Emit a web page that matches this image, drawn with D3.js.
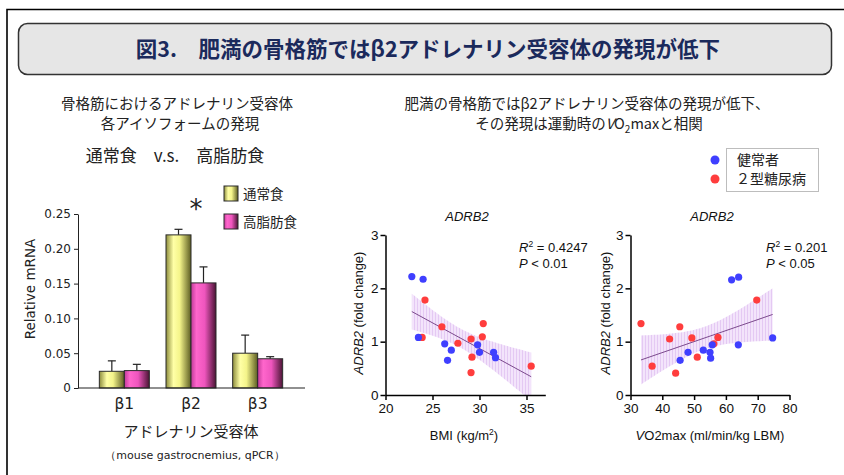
<!DOCTYPE html>
<html>
<head>
<meta charset="utf-8">
<script src="https://cdn.jsdelivr.net/npm/d3@7"></script>
<style>
  body { margin: 0; background: #fff; }
  svg { display: block; }
</style>
</head>
<body>
<svg id="fig" width="844" height="475"></svg>
<script>
// ---- Bar chart: adrenergic receptor isoforms, normal vs high-fat diet ----
const categories = ["β1", "β2", "β3"];
const normalDiet = [0.024, 0.220, 0.050];
const normalDietErr = [0.015, 0.008, 0.026];
const highFatDiet = [0.025, 0.151, 0.042];
const highFatDietErr = [0.009, 0.023, 0.003];
const barTicks = [0, 0.05, 0.10, 0.15, 0.20, 0.25];
const barTickLabels = ["0", "0.05", "0.10", "0.15", "0.20", "0.25"];
const dietLabels = ["通常食", "高脂肪食"];

// ---- Scatter: ADRB2 vs BMI ----
const bmiHealthy = [22.8, 24.0, 23.5, 26.3, 27.0, 26.6, 29.8, 30.0, 31.5, 31.7];
const adrb2BmiHealthy = [2.22, 2.17, 1.08, 0.96, 0.84, 0.65, 0.94, 0.80, 0.80, 0.70];
const bmiT2D = [24.2, 23.9, 26.0, 27.7, 29.1, 29.2, 29.1, 30.4, 30.3, 35.5];
const adrb2BmiT2D = [1.78, 1.08, 1.28, 0.97, 1.05, 0.71, 0.42, 1.34, 1.09, 0.54];
const bmiTicks = [20, 25, 30, 35];

// ---- Scatter: ADRB2 vs VO2max ----
const vo2Healthy = [45.6, 48.1, 52.9, 55.0, 55.2, 55.7, 61.8, 64.0, 63.9, 74.7];
const adrb2Vo2Healthy = [0.65, 0.80, 0.84, 0.80, 0.69, 0.94, 2.16, 2.21, 0.94, 1.07];
const vo2T2D = [33.3, 36.8, 42.3, 45.5, 44.2, 49.3, 51.0, 56.2, 57.5, 69.7];
const adrb2Vo2T2D = [1.34, 0.54, 1.05, 1.28, 0.41, 1.07, 0.71, 0.96, 1.08, 1.78];
const vo2Ticks = [30, 40, 50, 60, 70, 80];
const foldTicks = [0, 1, 2, 3];

const groupLabels = ["健常者", "２型糖尿病"];
const statsBmi = ["0.4247", "0.01"];
const statsVo2 = ["0.201", "0.05"];

const heading = "図3.　肥満の骨格筋ではβ2アドレナリン受容体の発現が低下";

const JP = "'Noto Sans CJK JP', 'Noto Sans', sans-serif";
const VER = "'DejaVu Sans', Verdana, sans-serif";
const ARIAL = "'Liberation Sans', Arial, sans-serif";
const BLUE = "#3f3fff";
const RED = "#ff3d3d";

const svg = d3.select("#fig");
const defs = svg.append("defs");

// page frame
svg.append("path").attr("d", "M7,475V9.5H844")
  .attr("fill", "none").attr("stroke", "#000").attr("stroke-width", 1.6);

// heading box
svg.append("rect").attr("x", 18.5).attr("y", 23.5).attr("width", 813).attr("height", 51)
  .attr("rx", 9).attr("fill", "#e6e6e6").attr("stroke", "#333").attr("stroke-width", 1.5);
svg.append("text").attr("x", 428).attr("y", 57).attr("text-anchor", "middle")
  .attr("font-family", JP).attr("font-weight", "bold").attr("font-size", 21.5)
  .attr("fill", "#1b2a5c").text(heading);

// ---------------- left panel ----------------
const left = svg.append("g").attr("fill", "#222");
left.append("text").attr("x", 177).attr("y", 109).attr("text-anchor", "middle")
  .attr("font-family", JP).attr("font-size", 14.5).text("骨格筋におけるアドレナリン受容体");
left.append("text").attr("x", 180).attr("y", 128.5).attr("text-anchor", "middle")
  .attr("font-family", JP).attr("font-size", 14.5).text("各アイソフォームの発現");
left.append("text").attr("x", 175).attr("y", 161.5).attr("text-anchor", "middle")
  .attr("font-family", JP).attr("font-size", 17).text("通常食　v.s.　高脂肪食");

// cylinder-like gradients for the bars
function hGradient(id, stops) {
  const g = defs.append("linearGradient").attr("id", id)
    .attr("x1", "0%").attr("x2", "100%").attr("y1", "0%").attr("y2", "0%");
  stops.forEach(([o, c]) => g.append("stop").attr("offset", o).attr("stop-color", c));
}
hGradient("gNormal", [["0%", "#8c8c3c"], ["30%", "#ffffa6"], ["55%", "#f4f48a"], ["100%", "#5c5c22"]]);
hGradient("gHighFat", [["0%", "#c03a98"], ["22%", "#ff66cc"], ["55%", "#ee55bd"], ["100%", "#4a1434"]]);
const fills = ["url(#gNormal)", "url(#gHighFat)"];

const yBar = d3.scaleLinear().domain([0, 0.25]).range([388, 214]);
const xBar = d3.scaleBand().domain(categories).range([91, 291])
  .paddingInner(0.25).paddingOuter(0.125);
const xSub = d3.scaleBand().domain([0, 1]).range([0, xBar.bandwidth()]);

const yAxisBar = d3.axisLeft(yBar).tickValues(barTicks)
  .tickFormat((d, i) => barTickLabels[i]).tickSize(4).tickSizeOuter(0).tickPadding(3);
const gyb = left.append("g").attr("transform", "translate(78,0)").call(yAxisBar);
gyb.selectAll("text").attr("font-family", VER).attr("font-size", 12).attr("fill", "#222");
gyb.selectAll("line,path").attr("stroke", "#222");

const series = [
  { vals: normalDiet, errs: normalDietErr },
  { vals: highFatDiet, errs: highFatDietErr }
];
const rows = [];
series.forEach((s, si) => s.vals.forEach((v, ci) =>
  rows.push({ cat: categories[ci], si, v, e: s.errs[ci] })));

const capW = 4;
const barG = left.append("g");
barG.selectAll("g.bar").data(rows).join("g").attr("class", "bar").each(function (d) {
  const g = d3.select(this);
  const x0 = xBar(d.cat) + xSub(d.si);
  const w = xSub.bandwidth();
  const cx = x0 + w / 2;
  g.append("line").attr("x1", cx).attr("x2", cx)
    .attr("y1", yBar(d.v)).attr("y2", yBar(d.v + d.e)).attr("stroke", "#222").attr("stroke-width", 1.2);
  g.append("line").attr("x1", cx - capW).attr("x2", cx + capW)
    .attr("y1", yBar(d.v + d.e)).attr("y2", yBar(d.v + d.e)).attr("stroke", "#222").attr("stroke-width", 1.2);
  g.append("rect").attr("x", x0).attr("y", yBar(d.v)).attr("width", w)
    .attr("height", yBar(0) - yBar(d.v)).attr("fill", fills[d.si])
    .attr("stroke", "#2a2a2a").attr("stroke-width", 1);
});

// baseline and category labels
left.append("line").attr("x1", 78).attr("x2", 305).attr("y1", 388).attr("y2", 388)
  .attr("stroke", "#222").attr("stroke-width", 1.2);
const xAxisBar = d3.axisBottom(xBar).tickSize(0).tickPadding(10);
const gxb = left.append("g").attr("transform", "translate(0,388)").call(xAxisBar);
gxb.select(".domain").remove();
gxb.selectAll("text").attr("font-family", VER).attr("font-size", 15.5).attr("fill", "#222");

left.append("text").attr("transform", "translate(35,289) rotate(-90)")
  .attr("text-anchor", "middle").attr("font-family", VER).attr("font-size", 13.5)
  .text("Relative mRNA");
left.append("text").attr("x", 191).attr("y", 436.5).attr("text-anchor", "middle")
  .attr("font-family", JP).attr("font-size", 15).text("アドレナリン受容体");
left.append("text").attr("x", 195).attr("y", 459).attr("text-anchor", "middle")
  .attr("font-family", VER).attr("font-size", 11).text("（mouse gastrocnemius, qPCR）");

// significance mark over β2
left.append("text").attr("x", xBar("β2") + xBar.bandwidth() / 2 + 5).attr("y", 218)
  .attr("text-anchor", "middle").attr("font-family", VER).attr("font-size", 26).text("*");

// diet legend
dietLabels.forEach((lab, i) => {
  const yy = 186 + i * 28;
  left.append("rect").attr("x", 224).attr("y", yy).attr("width", 14).attr("height", 15)
    .attr("fill", fills[i]).attr("stroke", "#2a2a2a").attr("stroke-width", 1);
  left.append("text").attr("x", 243).attr("y", yy + 12.5).attr("font-family", JP)
    .attr("font-size", 13.5).text(lab);
});

// ---------------- right panel ----------------
const right = svg.append("g").attr("fill", "#222");
right.append("text").attr("x", 587).attr("y", 108.5).attr("text-anchor", "middle")
  .attr("font-family", JP).attr("font-size", 14.5).text("肥満の骨格筋ではβ2アドレナリン受容体の発現が低下、");
const t2 = right.append("text").attr("x", 589).attr("y", 128.5).attr("text-anchor", "middle")
  .attr("font-family", JP).attr("font-size", 14.5);
t2.append("tspan").text("その発現は運動時の");
t2.append("tspan").attr("font-style", "italic").text("V");
t2.append("tspan").text("O");
t2.append("tspan").attr("font-size", 10).attr("dy", 4).text("2");
t2.append("tspan").attr("dy", -4).text("maxと相関");

// group legend
right.append("rect").attr("x", 726.5).attr("y", 148.5).attr("width", 92).attr("height", 43)
  .attr("fill", "#fff").attr("stroke", "#bdbdbd").attr("stroke-width", 1);
[BLUE, RED].forEach((c, i) => {
  right.append("circle").attr("cx", 715).attr("cy", 160 + i * 19).attr("r", 4.5).attr("fill", c);
  right.append("text").attr("x", i ? 736 : 737).attr("y", 165 + i * 19).attr("font-family", JP)
    .attr("font-size", 14).text(groupLabels[i]);
});

// hatched confidence band
const pat = defs.append("pattern").attr("id", "bandHatch").attr("patternUnits", "userSpaceOnUse")
  .attr("width", 3).attr("height", 6);
pat.append("rect").attr("width", 3).attr("height", 6).attr("fill", "#f3e4fb");
pat.append("rect").attr("width", 1).attr("height", 6).attr("fill", "#e4c9f3");

// least-squares fit with 95% confidence band (df = n - 2 = 18)
const T_CRIT = 2.101;
function fit(xs, ys) {
  const n = xs.length;
  const mx = d3.mean(xs), my = d3.mean(ys);
  let sxx = 0, sxy = 0;
  xs.forEach((x, i) => { sxx += (x - mx) ** 2; sxy += (x - mx) * (ys[i] - my); });
  const b = sxy / sxx, a = my - b * mx;
  let sse = 0;
  xs.forEach((x, i) => { sse += (ys[i] - a - b * x) ** 2; });
  const s = Math.sqrt(sse / (n - 2));
  const half = x => T_CRIT * s * Math.sqrt(1 / n + (x - mx) ** 2 / sxx);
  return { a, b, half };
}

function scatterPanel(cfg) {
  const g = svg.append("g");
  const x = d3.scaleLinear().domain(cfg.xDomain).range(cfg.xRange);
  const y = d3.scaleLinear().domain([0, 3]).range([395, 235]);
  const clipId = "clip" + cfg.id;
  defs.append("clipPath").attr("id", clipId).append("rect")
    .attr("x", cfg.xRange[0]).attr("y", 230).attr("width", cfg.xRange[1] - cfg.xRange[0]).attr("height", 165);

  const allX = cfg.xs[0].concat(cfg.xs[1]);
  const allY = cfg.ys[0].concat(cfg.ys[1]);
  const f = fit(allX, allY);
  const [lo, hi] = d3.extent(allX);
  const grid = d3.range(0, 41).map(k => lo + (hi - lo) * k / 40);
  const area = d3.area().x(d => x(d))
    .y0(d => y(f.a + f.b * d - f.half(d))).y1(d => y(f.a + f.b * d + f.half(d)));
  g.append("path").datum(grid).attr("d", area).attr("fill", "url(#bandHatch)")
    .attr("clip-path", `url(#${clipId})`);
  g.append("line").attr("x1", x(lo)).attr("x2", x(hi))
    .attr("y1", y(f.a + f.b * lo)).attr("y2", y(f.a + f.b * hi))
    .attr("stroke", "#7b4a8c").attr("stroke-width", 1);

  // points: diabetic first, healthy on top
  [1, 0].forEach(k => {
    g.append("g").selectAll("circle").data(cfg.xs[k].map((v, i) => [v, cfg.ys[k][i]]))
      .join("circle").attr("cx", d => x(d[0])).attr("cy", d => y(d[1])).attr("r", 3.6)
      .attr("fill", k ? RED : BLUE);
  });

  const ya = g.append("g").attr("transform", `translate(${cfg.xRange[0]},0)`)
    .call(d3.axisLeft(y).tickValues(foldTicks).tickFormat(d3.format("d")).tickSize(5).tickPadding(2).tickSizeOuter(0));
  const xa = g.append("g").attr("transform", "translate(0,395)")
    .call(d3.axisBottom(x).tickValues(cfg.xTicks).tickFormat(d3.format("d")).tickSize(5).tickPadding(3).tickSizeOuter(0));
  [ya, xa].forEach(a => {
    a.selectAll("path,line").attr("stroke", "#000").attr("stroke-width", 1.5);
    a.selectAll("text").attr("font-family", ARIAL).attr("font-size", 13.5).attr("fill", "#111");
  });

  g.append("text").attr("x", cfg.titleX).attr("y", 220.5).attr("text-anchor", "middle")
    .attr("font-family", ARIAL).attr("font-style", "italic").attr("font-size", 13).attr("fill", "#111")
    .text("ADRB2");

  const r2 = g.append("text").attr("x", cfg.statX).attr("y", 251.5)
    .attr("font-family", ARIAL).attr("font-size", 13).attr("fill", "#111");
  r2.append("tspan").attr("font-style", "italic").text("R");
  r2.append("tspan").attr("font-size", 8.5).attr("dy", -5).text("2");
  r2.append("tspan").attr("dy", 5).text(" = " + cfg.stats[0]);
  const p = g.append("text").attr("x", cfg.statX).attr("y", 267.5)
    .attr("font-family", ARIAL).attr("font-size", 13).attr("fill", "#111");
  p.append("tspan").attr("font-style", "italic").text("P");
  p.append("tspan").text(" < " + cfg.stats[1]);

  const yl = g.append("text").attr("transform", `translate(${cfg.yLabelX},313) rotate(-90)`)
    .attr("text-anchor", "middle").attr("font-family", ARIAL).attr("font-size", 13).attr("fill", "#111");
  yl.append("tspan").attr("font-style", "italic").text("ADRB2");
  yl.append("tspan").text(" (fold change)");

  const xl = g.append("text").attr("x", cfg.xLabelX).attr("y", 439.5).attr("text-anchor", "middle")
    .attr("font-family", ARIAL).attr("font-size", 13).attr("fill", "#111");
  cfg.xLabel(xl);
}

scatterPanel({
  id: "bmi", xDomain: [20, 37], xRange: [385.5, 545.3], xTicks: bmiTicks,
  xs: [bmiHealthy, bmiT2D], ys: [adrb2BmiHealthy, adrb2BmiT2D],
  titleX: 467, statX: 519, stats: statsBmi, yLabelX: 362.5, xLabelX: 464,
  xLabel: t => {
    t.append("tspan").text("BMI (kg/m");
    t.append("tspan").attr("font-size", 8.5).attr("dy", -5).text("2");
    t.append("tspan").attr("dy", 5).text(")");
  }
});

scatterPanel({
  id: "vo2", xDomain: [30, 80], xRange: [630.5, 789.5], xTicks: vo2Ticks,
  xs: [vo2Healthy, vo2T2D], ys: [adrb2Vo2Healthy, adrb2Vo2T2D],
  titleX: 712, statX: 766, stats: statsVo2, yLabelX: 609.5, xLabelX: 710,
  xLabel: t => {
    t.append("tspan").attr("font-style", "italic").text("V");
    t.append("tspan").text("O2max (ml/min/kg LBM)");
  }
});
</script>
</body>
</html>
